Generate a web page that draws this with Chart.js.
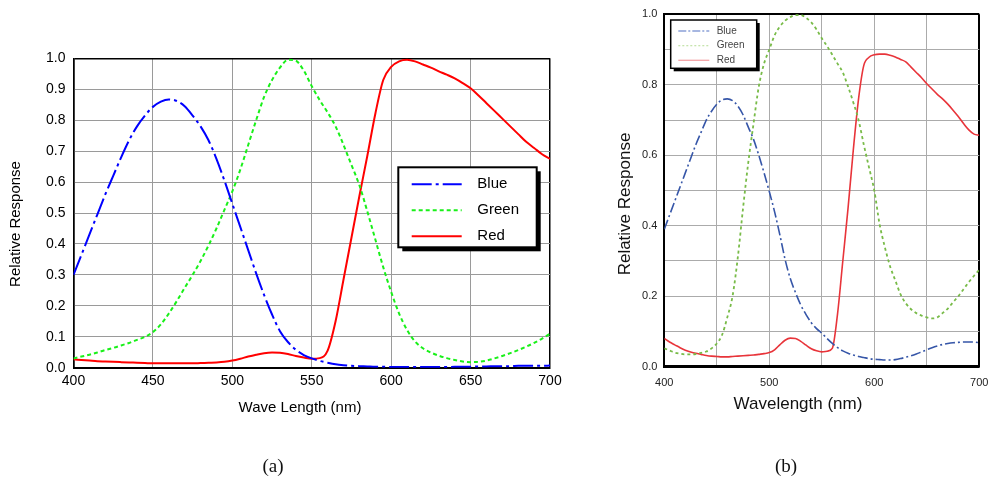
<!DOCTYPE html>
<html>
<head>
<meta charset="utf-8">
<title>Relative spectral response</title>
<script src="https://cdn.jsdelivr.net/npm/chart.js@4.4.1/dist/chart.umd.min.js"></script>
<style>
  html, body { margin: 0; padding: 0; background: #fff; }
  #page { position: relative; width: 989px; height: 485px; overflow: hidden; }
  canvas { position: absolute; top: 0; }
  #chartA { left: 0; }
  #chartB { left: 600px; }
  .caption {
    position: absolute; top: 455px; width: 60px; margin-left: -30px;
    text-align: center; line-height: 22px; color: #111;
    font: 19px 'Liberation Serif', 'DejaVu Serif', serif;
  }
</style>
</head>
<body>
<div id="page">
  <canvas id="chartA" width="600" height="485"></canvas>
  <canvas id="chartB" width="430" height="485"></canvas>
  <div class="caption" style="left:273px">(a)</div>
  <div class="caption" style="left:786px">(b)</div>
</div>
<script>
const SANS = "'Liberation Sans', Arial, sans-serif";

/* ---------- data ---------- */

const wavelengths = [
  400, 405, 410, 415, 420, 425, 430, 435, 440, 445,
  450, 455, 460, 465, 470, 475, 480, 485, 490, 495,
  500, 505, 510, 515, 520, 525, 530, 535, 540, 545,
  550, 555, 560, 565, 570, 575, 580, 585, 590, 595,
  600, 605, 610, 615, 620, 625, 630, 635, 640, 645,
  650, 655, 660, 665, 670, 675, 680, 685, 690, 695,
  700,
];

const seriesNames = ['Blue', 'Green', 'Red'];

// sensor (a)
const blueA = [
  0.300, 0.365, 0.430, 0.495, 0.560, 0.620, 0.680, 0.735, 0.780, 0.815,
  0.843, 0.860, 0.867, 0.862, 0.845, 0.815, 0.780, 0.735, 0.675, 0.605,
  0.530, 0.455, 0.380, 0.305, 0.235, 0.172, 0.118, 0.083, 0.058, 0.041,
  0.030, 0.022, 0.016, 0.011, 0.008, 0.006, 0.005, 0.004, 0.003, 0.003,
  0.002, 0.002, 0.002, 0.002, 0.002, 0.002, 0.002, 0.002, 0.003, 0.003,
  0.003, 0.004, 0.004, 0.005, 0.005, 0.005, 0.006, 0.006, 0.006, 0.006,
  0.007,
];
const greenA = [
  0.030, 0.036, 0.042, 0.049, 0.057, 0.064, 0.072, 0.080, 0.090, 0.100,
  0.115, 0.140, 0.175, 0.215, 0.258, 0.300, 0.345, 0.395, 0.450, 0.510,
  0.570, 0.640, 0.720, 0.800, 0.875, 0.930, 0.970, 0.995, 0.992, 0.960,
  0.910, 0.865, 0.825, 0.780, 0.720, 0.655, 0.590, 0.505, 0.415, 0.325,
  0.245, 0.175, 0.122, 0.085, 0.063, 0.049, 0.039, 0.031, 0.025, 0.020,
  0.018, 0.019, 0.023, 0.030, 0.038, 0.047, 0.057, 0.068, 0.080, 0.094,
  0.110,
];
const redA = [
  0.027, 0.025, 0.023, 0.021, 0.020, 0.019, 0.018, 0.017, 0.016, 0.015,
  0.014, 0.014, 0.014, 0.014, 0.014, 0.014, 0.015, 0.016, 0.017, 0.019,
  0.023, 0.029, 0.036, 0.042, 0.047, 0.049, 0.048, 0.044, 0.038, 0.033,
  0.029, 0.031, 0.055, 0.150, 0.285, 0.420, 0.555, 0.685, 0.820, 0.930,
  0.972, 0.990, 0.995, 0.990, 0.980, 0.970, 0.958, 0.947, 0.935, 0.920,
  0.903, 0.880, 0.855, 0.830, 0.805, 0.780, 0.755, 0.730, 0.710, 0.690,
  0.675,
];

// sensor (b)
const blueB = [
  0.390, 0.430, 0.470, 0.510, 0.550, 0.590, 0.630, 0.665, 0.700, 0.725,
  0.745, 0.757, 0.760, 0.755, 0.740, 0.715, 0.680, 0.645, 0.600, 0.550,
  0.497, 0.440, 0.375, 0.305, 0.250, 0.210, 0.175, 0.148, 0.125, 0.108,
  0.095, 0.080, 0.066, 0.054, 0.045, 0.038, 0.033, 0.029, 0.026, 0.023,
  0.021, 0.020, 0.019, 0.019, 0.020, 0.023, 0.027, 0.031, 0.036, 0.042,
  0.048, 0.054, 0.059, 0.063, 0.066, 0.068, 0.069, 0.070, 0.070, 0.070,
  0.068,
];
const greenB = [
  0.052, 0.046, 0.040, 0.037, 0.035, 0.035, 0.036, 0.039, 0.043, 0.052,
  0.066, 0.090, 0.140, 0.200, 0.310, 0.450, 0.580, 0.690, 0.795, 0.860,
  0.900, 0.940, 0.965, 0.982, 0.992, 0.998, 0.998, 0.990, 0.977, 0.957,
  0.932, 0.910, 0.885, 0.860, 0.835, 0.795, 0.750, 0.700, 0.630, 0.565,
  0.500, 0.405, 0.340, 0.285, 0.245, 0.205, 0.180, 0.163, 0.152, 0.145,
  0.140, 0.137, 0.140, 0.152, 0.165, 0.183, 0.200, 0.220, 0.240, 0.258,
  0.275,
];
const redB = [
  0.080, 0.070, 0.062, 0.054, 0.047, 0.042, 0.038, 0.035, 0.032, 0.030,
  0.029, 0.028, 0.028, 0.029, 0.030, 0.031, 0.032, 0.033, 0.035, 0.037,
  0.040, 0.048, 0.062, 0.075, 0.081, 0.080, 0.072, 0.061, 0.051, 0.045,
  0.042, 0.044, 0.052, 0.150, 0.300, 0.450, 0.615, 0.760, 0.855, 0.878,
  0.885, 0.887, 0.887, 0.884, 0.879, 0.872, 0.865, 0.850, 0.835, 0.820,
  0.803, 0.788, 0.773, 0.760, 0.745, 0.728, 0.710, 0.690, 0.672, 0.660,
  0.657,
];

/* ---------- helpers ---------- */

function points(values) {
  return wavelengths.map((w, i) => ({ x: w, y: values[i] }));
}

function curve(label, values, s) {
  return {
    label,
    data: points(values),
    borderColor: s.color,
    borderWidth: s.width,
    borderDash: s.dash || [],
    legendColor: s.legendColor || s.color,
    pointRadius: 0,
    fill: false,
    cubicInterpolationMode: 'monotone',
  };
}

// axis titles sit at fixed spots, a little off the plot centre
const axisTitles = {
  id: 'axisTitles',
  afterDraw(chart, args, o) {
    const { ctx } = chart;
    ctx.save();
    ctx.fillStyle = o.color;
    ctx.font = o.font;
    ctx.textAlign = 'center';
    ctx.textBaseline = 'middle';
    ctx.fillText(o.xText, o.xAt[0], o.xAt[1]);
    ctx.translate(o.yAt[0], o.yAt[1]);
    ctx.rotate(-Math.PI / 2);
    ctx.fillText(o.yText, 0, 0);
    ctx.restore();
  },
};

// framed legend with a drop shadow, drawn from the datasets
const boxLegend = {
  id: 'boxLegend',
  afterDatasetsDraw(chart, args, o) {
    const { ctx } = chart;
    ctx.save();
    ctx.fillStyle = '#000';
    ctx.fillRect(o.x + o.shadow, o.y + o.shadow, o.w, o.h);
    ctx.fillStyle = '#fff';
    ctx.fillRect(o.x, o.y, o.w, o.h);
    ctx.strokeStyle = '#000';
    ctx.lineWidth = o.border;
    ctx.strokeRect(o.x, o.y, o.w, o.h);
    chart.data.datasets.forEach((ds, i) => {
      const y = o.y + o.rowTop + i * o.rowGap;
      ctx.beginPath();
      ctx.setLineDash(o.dashes ? o.dashes[i] : ds.borderDash);
      ctx.strokeStyle = ds.legendColor;
      ctx.lineWidth = o.lineWidth;
      ctx.moveTo(o.x + o.lineFrom, y);
      ctx.lineTo(o.x + o.lineTo, y);
      ctx.stroke();
      ctx.setLineDash([]);
      ctx.fillStyle = o.color;
      ctx.font = o.font;
      ctx.textAlign = 'left';
      ctx.textBaseline = 'middle';
      ctx.fillText(ds.label, o.x + o.textX, y);
    });
    ctx.restore();
  },
};

function frameColor(edges, dark, light) {
  return (c) => (c.tick && edges.includes(c.tick.value) ? dark : light);
}

/* ---------- chart (a) ---------- */

new Chart(document.getElementById('chartA'), {
  type: 'line',
  data: {
    datasets: [
      curve(seriesNames[0], blueA, { color: '#0000ff', width: 2, dash: [20, 4, 3, 4] }),
      curve(seriesNames[1], greenA, { color: '#19f019', width: 2, dash: [4, 3] }),
      curve(seriesNames[2], redA, { color: '#ff0000', width: 2 }),
    ],
  },
  options: {
    responsive: false,
    animation: false,
    events: [],
    layout: { padding: { left: 0, top: 58.3, right: 50, bottom: 0 } },
    scales: {
      x: {
        type: 'linear', min: 400, max: 700,
        afterFit(s) { s.height = 485 - 367.7; },
        ticks: { stepSize: 50, autoSkip: false, maxRotation: 0, padding: 5, color: '#000', font: { family: SANS, size: 14 } },
        grid: { drawTicks: false, color: frameColor([400, 700], '#000', '#9a9a9a'), lineWidth: frameColor([400, 700], 1.5, 1) },
        border: { color: '#000', width: 2 },
      },
      y: {
        min: 0, max: 1,
        afterFit(s) { s.width = 73.5; },
        ticks: { stepSize: 0.1, autoSkip: false, padding: 8, color: '#000', font: { family: SANS, size: 14 }, callback: (v) => v.toFixed(1) },
        grid: { drawTicks: false, color: frameColor([0, 1], '#000', '#9a9a9a'), lineWidth: frameColor([0, 1], 1.5, 1) },
        border: { color: '#000', width: 1.5 },
      },
    },
    plugins: {
      legend: { display: false },
      tooltip: { enabled: false },
      axisTitles: {
        xText: 'Wave Length (nm)', xAt: [300, 408],
        yText: 'Relative Response', yAt: [16, 224],
        font: `15px ${SANS}`, color: '#000',
      },
      boxLegend: {
        x: 398.3, y: 167.3, w: 138.4, h: 80, shadow: 4, border: 2,
        rowTop: 17, rowGap: 26, lineFrom: 13.4, lineTo: 63.4, lineWidth: 2, textX: 79,
        font: `15px ${SANS}`, color: '#000',
      },
    },
  },
  plugins: [axisTitles, boxLegend],
});

/* ---------- chart (b) ---------- */

// canvas runs past the page edge so the "700" label has room
new Chart(document.getElementById('chartB'), {
  type: 'line',
  data: {
    datasets: [
      curve(seriesNames[0], blueB, { color: '#3656a8', width: 1.6, dash: [10, 3, 2, 3], legendColor: '#8aa0d8' }),
      curve(seriesNames[1], greenB, { color: '#78bb48', width: 1.8, dash: [3, 3], legendColor: '#c6e4ad' }),
      curve(seriesNames[2], redB, { color: '#e8343a', width: 1.6, legendColor: '#f4a3a6' }),
    ],
  },
  options: {
    responsive: false,
    animation: false,
    events: [],
    layout: { padding: { left: 0, top: 14.3, right: 430 - 379.3, bottom: 0 } },
    scales: {
      x: {
        type: 'linear', min: 400, max: 700,
        afterFit(s) { s.height = 485 - 366.7; },
        ticks: {
          stepSize: 50, autoSkip: false, maxRotation: 0, padding: 9.5, color: '#222',
          font: { family: SANS, size: 11 },
          callback: (v) => (v % 100 === 0 ? String(v) : ''),
        },
        grid: { drawTicks: false, color: frameColor([400, 700], '#000', '#ababab'), lineWidth: frameColor([400, 700], 2, 1) },
        border: { color: '#000', width: 2.6 },
      },
      y: {
        min: 0, max: 1,
        afterFit(s) { s.width = 64.3; },
        ticks: {
          stepSize: 0.1, autoSkip: false, padding: 7, color: '#222',
          font: { family: SANS, size: 11 },
          callback: (v) => (Math.round(v * 10) % 2 === 0 ? v.toFixed(1) : ''),
        },
        grid: { drawTicks: false, color: frameColor([0, 1], '#000', '#ababab'), lineWidth: frameColor([0, 1], 2, 1) },
        border: { color: '#000', width: 2 },
      },
    },
    plugins: {
      legend: { display: false },
      tooltip: { enabled: false },
      axisTitles: {
        xText: 'Wavelength (nm)', xAt: [198, 404],
        yText: 'Relative Response', yAt: [25.7, 204],
        font: `17px ${SANS}`, color: '#111',
      },
      boxLegend: {
        x: 70.7, y: 20, w: 86, h: 48.3, shadow: 3, border: 1.5,
        rowTop: 11, rowGap: 14.65, lineFrom: 7.6, lineTo: 38.6, lineWidth: 1.3, textX: 46,
        font: `10px ${SANS}`, color: '#444',
        dashes: [[8, 2, 2, 2], [2, 2], []],
      },
    },
  },
  plugins: [axisTitles, boxLegend],
});
</script>
</body>
</html>
